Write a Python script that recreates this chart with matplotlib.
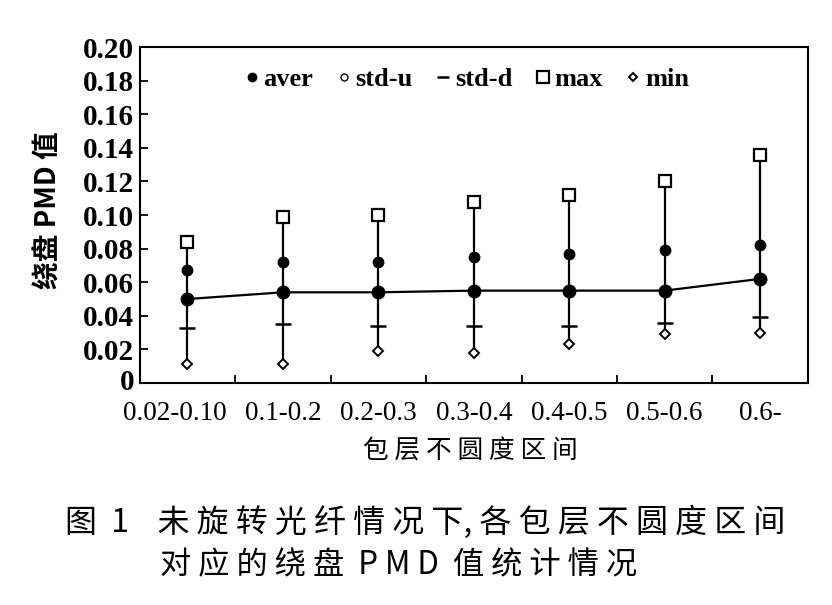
import matplotlib.pyplot as plt
import matplotlib.transforms as mtransforms
import numpy as np

plt.rcParams['font.family'] = ['Liberation Serif', 'Noto Sans CJK SC']

categories = ['0.02-0.10', '0.1-0.2', '0.2-0.3', '0.3-0.4', '0.4-0.5', '0.5-0.6', '0.6-']
aver = [0.050, 0.054, 0.054, 0.055, 0.055, 0.055, 0.062]
std_u = [0.067, 0.072, 0.072, 0.075, 0.077, 0.079, 0.082]
std_d = [0.033, 0.035, 0.034, 0.034, 0.034, 0.036, 0.039]
vmax = [0.084, 0.099, 0.100, 0.108, 0.112, 0.120, 0.136]
vmin = [0.011, 0.011, 0.019, 0.018, 0.023, 0.029, 0.030]

x = np.arange(len(categories))

fig = plt.figure(figsize=(8.32, 6.05), dpi=100)
ax = fig.add_axes([0.168, 0.367, 0.803, 0.555])

# vertical range lines
ax.vlines(x, vmin, vmax, color='black', lw=1.6)
ax.plot(x, aver, color='black', lw=1.6, marker='o', ms=9, label='aver')
ax.plot(x, std_u, ls='none', color='black', marker='o', ms=7.5, label='std-u')
ax.plot(x, std_d, ls='none', color='black', marker='_', ms=12, mew=1.8, label='std-d')
ax.plot(x, vmax, ls='none', color='black', marker='s', ms=8, mfc='white', mew=1.6, label='max')
ax.plot(x, vmin, ls='none', color='black', marker='D', ms=5, mfc='white', mew=1.4, label='min')

ax.set_xlim(-0.5, 6.5)
ax.set_ylim(0, 0.20)
yt = np.arange(0, 0.201, 0.02)
ax.set_yticks(yt)
ax.set_yticklabels(['0'] + ['%.2f' % v for v in yt[1:]], fontsize=21, weight='bold')
ax.set_xticks(x)
ax.set_xticklabels(categories, fontsize=19.5)
ax.tick_params(axis='x', length=0, pad=13)
ax.set_xticks(np.arange(0.5, 6.5, 1), minor=True)
ax.tick_params(axis='x', which='minor', direction='in', length=6, width=1.3)
ax.tick_params(axis='y', direction='in', length=6, width=1.3, pad=4)
ax.tick_params(top=False, right=False)
for s in ax.spines.values():
    s.set_linewidth(1.5)

# first label sits a bit left, as in the original
lab0 = ax.get_xticklabels()[0]
lab0.set_transform(lab0.get_transform() + mtransforms.ScaledTranslation(-0.13, 0, fig.dpi_scale_trans))
# "0" sits slightly higher
ylab0 = ax.get_yticklabels()[0]
ylab0.set_transform(ylab0.get_transform() + mtransforms.ScaledTranslation(0, 0.03, fig.dpi_scale_trans))

leg = ax.legend(loc='center', ncol=5, frameon=False,
                handlelength=0.5, handletextpad=0.2, columnspacing=0.9,
                bbox_to_anchor=(0.49, 0.905),
                prop={'family': 'Liberation Serif', 'weight': 'bold', 'size': 19})
for h in leg.legend_handles:
    h.set_linestyle('none')
leg.legend_handles[0].set_markersize(6)
leg.legend_handles[1].set_markersize(5)
leg.legend_handles[1].set_markerfacecolor('white')
leg.legend_handles[2].set_markersize(8)
leg.legend_handles[3].set_markersize(8)
leg.legend_handles[4].set_markersize(4.5)

fig.text(0.058, 0.653, '绕盘 PMD 值', rotation=90, ha='center', va='center',
         fontsize=20, family=['Noto Sans CJK SC'], weight='bold')
fig.text(0.565, 0.254, '包 层 不 圆 度 区 间', ha='center', va='center',
         fontsize=18.5, family=['Noto Sans CJK SC'])
fig.text(0.078, 0.137, '图  1    未 旋 转 光 纤 情 况 下, 各 包 层 不 圆 度 区 间',
         ha='left', va='center', fontsize=23, family=['Noto Sans CJK SC'])
fig.text(0.192, 0.066, '对 应 的 绕 盘  P M D  值 统 计 情 况',
         ha='left', va='center', fontsize=22.5, family=['Noto Sans CJK SC'])

fig.savefig('out.png', dpi=100)
